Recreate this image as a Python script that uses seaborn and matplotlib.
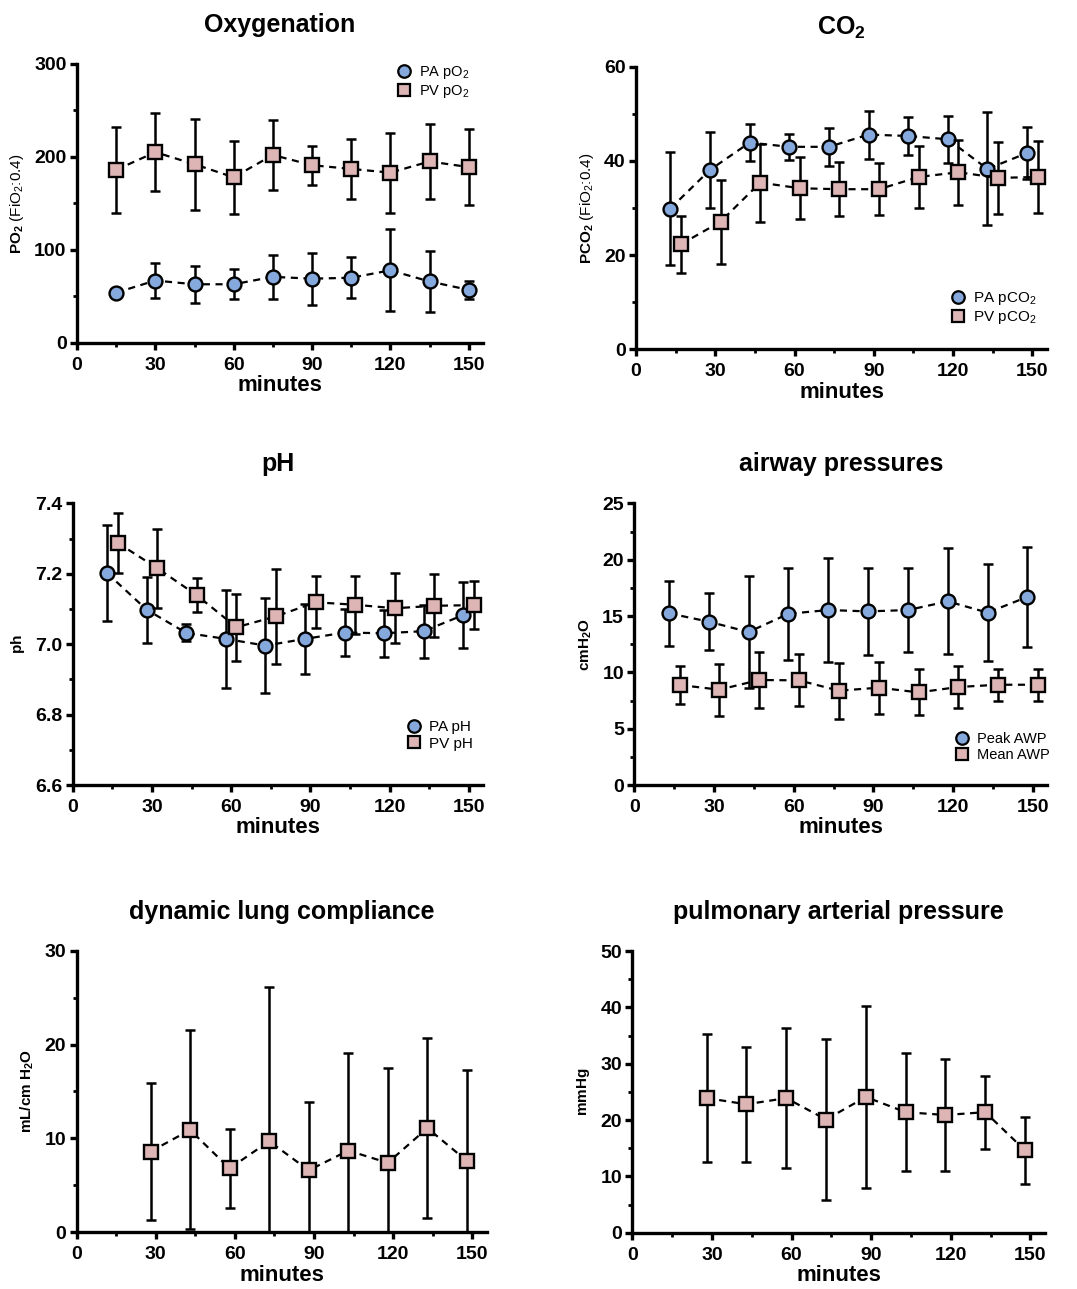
import numpy as np
import pandas as pd
import matplotlib
matplotlib.use("Agg")
import matplotlib.pyplot as plt
from matplotlib.lines import Line2D
from matplotlib.ticker import MultipleLocator, FormatStrFormatter
import seaborn as sns

# time points (minutes)
t_all = [15, 30, 45, 60, 75, 90, 105, 120, 135, 150]
t_pa = [13, 28, 43, 58, 73, 88, 103, 118, 133, 148]
t_pv = [17, 32, 47, 62, 77, 92, 107, 122, 137, 152]
t_late = [28, 43, 58, 73, 88, 103, 118, 133, 148]

# Oxygenation
pa_po2 = [54, 67, 63, 63, 71, 69, 70, 78, 66, 57]
pa_po2_sd = [0, 19, 20, 16, 24, 28, 22, 44, 33, 10]
pv_po2 = [186, 205, 192, 178, 202, 191, 187, 183, 195, 189]
pv_po2_sd = [46, 42, 49, 39, 38, 21, 32, 43, 40, 41]

# CO2
pa_pco2 = [29.9, 38.1, 43.9, 43.0, 43.0, 45.6, 45.3, 44.6, 38.3, 41.7]
pa_pco2_sd = [12.0, 8.0, 4.0, 2.7, 4.0, 5.1, 4.0, 5.0, 12.0, 5.6]
pv_pco2 = [22.3, 27.1, 35.4, 34.2, 34.0, 34.0, 36.6, 37.6, 36.4, 36.6]
pv_pco2_sd = [6.1, 8.9, 8.3, 6.6, 5.7, 5.5, 6.6, 6.9, 7.6, 7.6]

# pH
pa_ph = [7.202, 7.098, 7.032, 7.015, 6.996, 7.015, 7.033, 7.031, 7.037, 7.083]
pa_ph_sd = [0.137, 0.094, 0.024, 0.140, 0.134, 0.100, 0.067, 0.067, 0.075, 0.095]
pv_ph = [7.288, 7.216, 7.139, 7.048, 7.079, 7.119, 7.112, 7.102, 7.109, 7.111]
pv_ph_sd = [0.085, 0.112, 0.048, 0.095, 0.135, 0.074, 0.083, 0.100, 0.089, 0.068]

# airway pressures
peak_awp = [15.24, 14.5, 13.58, 15.2, 15.53, 15.41, 15.53, 16.3, 15.3, 16.7]
peak_awp_sd = [2.9, 2.55, 5.0, 4.1, 4.6, 3.85, 3.7, 4.7, 4.3, 4.45]
mean_awp = [8.88, 8.46, 9.32, 9.29, 8.37, 8.64, 8.22, 8.7, 8.9, 8.9]
mean_awp_sd = [1.7, 2.3, 2.5, 2.3, 2.5, 2.3, 2.05, 1.9, 1.4, 1.4]

# dynamic lung compliance
compliance = [8.6, 10.9, 6.8, 9.7, 6.6, 8.7, 7.4, 11.1, 7.6]
compliance_sd = [7.25, 10.6, 4.2, 16.4, 7.3, 10.4, 10.15, 9.6, 9.7]

# pulmonary arterial pressure
pap = [23.9, 22.8, 23.9, 20.1, 24.1, 21.4, 20.9, 21.4, 14.6]
pap_sd = [11.3, 10.2, 12.5, 14.3, 16.2, 10.5, 10.0, 6.5, 5.9]

BLUE = "#85A9DC"
PINK = "#DDB5B4"

sns.set_theme(style="ticks")
plt.rcParams["font.family"] = ["Liberation Sans", "DejaVu Sans"]
plt.rcParams["mathtext.fontset"] = "custom"
plt.rcParams["mathtext.rm"] = "Liberation Sans"
plt.rcParams["mathtext.it"] = "Liberation Sans:italic"
plt.rcParams["mathtext.bf"] = "Liberation Sans:bold"
for key in ["text.color", "axes.labelcolor", "xtick.color", "ytick.color",
            "axes.edgecolor"]:
    plt.rcParams[key] = "black"

fig = plt.figure(figsize=(10.77, 12.89), dpi=100)

positions = [
    [0.0715, 0.734, 0.377, 0.2165],
    [0.5905, 0.729, 0.3816, 0.2192],
    [0.0675, 0.391, 0.3812, 0.2185],
    [0.589, 0.391, 0.3835, 0.2185],
    [0.0712, 0.044, 0.3807, 0.2185],
    [0.5871, 0.0437, 0.3832, 0.2184],
]
axes = [fig.add_axes(p) for p in positions]


def draw_series(ax, x, y, sd, marker, color, zo):
    ax.errorbar(x, y, yerr=sd, fmt="none", ecolor="black", elinewidth=1.8,
                capsize=3.8, capthick=1.8, zorder=zo)
    df = pd.DataFrame({"minutes": x, "value": y})
    sns.lineplot(data=df, x="minutes", y="value", ax=ax, color="black",
                 linestyle=(0, (3.2, 2.5)), linewidth=1.6, marker=marker,
                 markersize=10 if marker == "o" else 9.5,
                 markerfacecolor=color, markeredgecolor="black",
                 markeredgewidth=1.7, zorder=zo + 1)


def style_axis(ax, title, ylabel, ymin, ymax, ymajor, yminor, fmt="%d"):
    ax.set_xlim(0, 155.5)
    ax.set_ylim(ymin, ymax)
    ax.xaxis.set_major_locator(MultipleLocator(30))
    ax.xaxis.set_minor_locator(MultipleLocator(15))
    ax.yaxis.set_major_locator(MultipleLocator(ymajor))
    ax.yaxis.set_minor_locator(MultipleLocator(yminor))
    ax.yaxis.set_major_formatter(FormatStrFormatter(fmt))
    sns.despine(ax=ax)
    for s in ["left", "bottom"]:
        ax.spines[s].set_linewidth(2.4)
        ax.spines[s].set_color("black")
    ax.tick_params(which="major", length=5, width=2.4, color="black",
                   labelsize=14, pad=2.5)
    ax.tick_params(axis="x", which="major", pad=5)
    ax.tick_params(which="minor", length=3, width=2.0, color="black")
    for lab in ax.get_xticklabels() + ax.get_yticklabels():
        lab.set_fontweight("bold")
    ax.set_xlabel("minutes", fontsize=16, fontweight="bold", labelpad=1)
    ax.set_ylabel(ylabel, fontsize=11, labelpad=6)
    ax.set_title(title, fontsize=18, fontweight="bold", pad=23)


def add_legend(ax, labels, loc, anchor, size=10.5):
    handles = [
        Line2D([], [], linestyle="none", marker="o", markersize=9,
               markerfacecolor=BLUE, markeredgecolor="black", markeredgewidth=1.6),
        Line2D([], [], linestyle="none", marker="s", markersize=8.5,
               markerfacecolor=PINK, markeredgecolor="black", markeredgewidth=1.6),
    ]
    ax.legend(handles, labels, loc=loc, bbox_to_anchor=anchor, frameon=False,
              fontsize=size, handletextpad=0.4, labelspacing=0.15,
              borderaxespad=0, handlelength=1.2)


# Oxygenation
ax = axes[0]
draw_series(ax, t_all, pa_po2, pa_po2_sd, "o", BLUE, 2)
draw_series(ax, t_all, pv_po2, pv_po2_sd, "s", PINK, 4)
style_axis(ax, "Oxygenation", r"$\mathbf{PO_2}$ (FiO$_2$:0.4)", 0, 300, 100, 50)
add_legend(ax, [r"PA pO$_2$", r"PV pO$_2$"], "upper right", (0.98, 1.02), 10.5)

# CO2
ax = axes[1]
draw_series(ax, t_pa, pa_pco2, pa_pco2_sd, "o", BLUE, 2)
draw_series(ax, t_pv, pv_pco2, pv_pco2_sd, "s", PINK, 4)
style_axis(ax, r"$\mathbf{CO_2}$", r"$\mathbf{PCO_2}$ (FiO$_2$:0.4)", 0, 60, 20, 10)
add_legend(ax, [r"PA pCO$_2$", r"PV pCO$_2$"], "lower right", (0.99, 0.06), 11)

# pH
ax = axes[2]
draw_series(ax, t_pa, pa_ph, pa_ph_sd, "o", BLUE, 2)
draw_series(ax, t_pv, pv_ph, pv_ph_sd, "s", PINK, 4)
style_axis(ax, "pH", r"$\mathbf{ph}$", 6.6, 7.4, 0.2, 0.1, fmt="%.1f")
add_legend(ax, ["PA pH", "PV pH"], "lower right", (0.99, 0.1), 11)

# airway pressures
ax = axes[3]
draw_series(ax, t_pa, peak_awp, peak_awp_sd, "o", BLUE, 2)
draw_series(ax, t_pv, mean_awp, mean_awp_sd, "s", PINK, 4)
style_axis(ax, "airway pressures", r"$\mathbf{cmH_2O}$", 0, 25, 5, 2.5)
add_legend(ax, ["Peak AWP", "Mean AWP"], "lower right", (1.02, 0.06), 10.5)

# dynamic lung compliance
ax = axes[4]
draw_series(ax, t_late, compliance, compliance_sd, "s", PINK, 4)
style_axis(ax, "dynamic lung compliance", r"$\mathbf{mL/cm\ H_2O}$", 0, 30, 10, 5)

# pulmonary arterial pressure
ax = axes[5]
draw_series(ax, t_late, pap, pap_sd, "s", PINK, 4)
style_axis(ax, "pulmonary arterial pressure", r"$\mathbf{mmHg}$", 0, 50, 10, 5)

fig.savefig("out.png", dpi=100)
